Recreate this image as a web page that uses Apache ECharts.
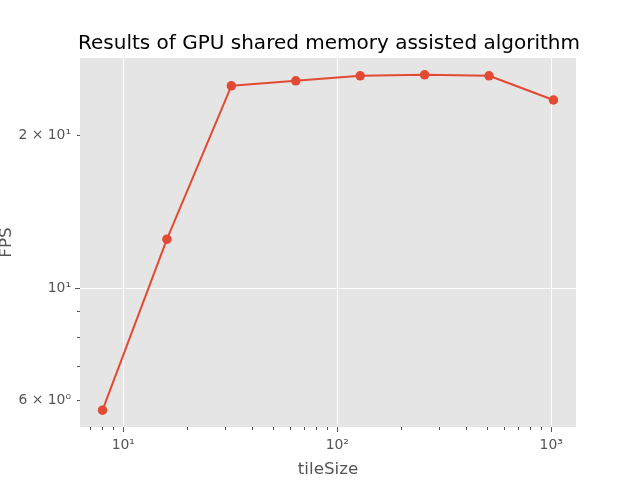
<!DOCTYPE html>
<html>
<head>
<meta charset="utf-8">
<script src="https://cdn.jsdelivr.net/npm/echarts@6/dist/echarts.min.js"></script>
<style>html,body{margin:0;padding:0;background:#fff}#c{width:640px;height:480px}</style>
</head>
<body>
<div id="c"></div>
<script>
const tileSizes = [8, 16, 32, 64, 128, 256, 512, 1024];
const fps = [5.74, 12.49, 25.09, 25.66, 26.26, 26.38, 26.26, 23.52];

const xMajorValues = [10, 100, 1000];
const xMajorLabels = ['10¹', '10²', '10³'];
const xMinorValues = [7, 8, 9, 20, 30, 40, 50, 60, 70, 80, 90, 200, 300, 400, 500, 600, 700, 800, 900];
const yMajorValues = [10];
const yLabelValues = [6, 10, 20];
const yLabelTexts = ['6 × 10⁰', '10¹', '2 × 10¹'];
const yMinorValues = [6, 7, 8, 9, 20];

const xMin = 6.277, xMax = 1305.3;
const yMin = 5.318, yMax = 28.47;

const FONT = 'DejaVu Sans';
const GREY = '#555555';

function lookup(vals, texts) {
  return function (v) {
    for (let i = 0; i < vals.length; i++) {
      if (Math.abs(v - vals[i]) / vals[i] < 1e-6) return texts[i];
    }
    return '';
  };
}

const chart = echarts.init(document.getElementById('c'), null, {renderer: 'canvas'});
chart.setOption({
  animation: false,
  backgroundColor: '#ffffff',
  title: {
    text: 'Results of GPU shared memory assisted algorithm',
    left: 324,
    top: 29,
    textAlign: 'center',
    textStyle: {fontFamily: FONT, fontSize: 20, fontWeight: 'normal', color: '#000000'}
  },
  grid: {
    left: 80, right: 64, top: 58, bottom: 53,
    containLabel: false, outerBoundsMode: 'none',
    show: true, backgroundColor: '#E5E5E5', borderWidth: 0
  },
  xAxis: [{
    type: 'log', logBase: 10, min: xMin, max: xMax,
    name: 'tileSize', nameLocation: 'middle', nameGap: 34, nameMoveOverlap: false,
    nameTextStyle: {fontFamily: FONT, fontSize: 16.7, color: GREY},
    axisLine: {show: false},
    axisTick: {show: true, length: 5, customValues: xMajorValues, lineStyle: {color: GREY, width: 1}},
    axisLabel: {customValues: xMajorValues, formatter: lookup(xMajorValues, xMajorLabels),
      fontFamily: FONT, fontSize: 13.9, color: GREY, margin: 11},
    splitLine: {show: true, lineStyle: {color: '#ffffff', width: 1}}
  }, {
    type: 'log', logBase: 10, min: xMin, max: xMax, position: 'bottom',
    axisLine: {show: false},
    axisTick: {show: true, length: 3, customValues: xMinorValues, lineStyle: {color: GREY, width: 1}},
    axisLabel: {show: false},
    splitLine: {show: false}
  }],
  yAxis: [{
    type: 'log', logBase: 10, min: yMin, max: yMax,
    name: 'FPS', nameLocation: 'middle', nameGap: 65, nameMoveOverlap: false,
    nameTextStyle: {fontFamily: FONT, fontSize: 16.7, color: GREY},
    axisLine: {show: false},
    axisTick: {show: true, length: 5, customValues: yMajorValues, lineStyle: {color: GREY, width: 1}},
    axisLabel: {customValues: yLabelValues, formatter: lookup(yLabelValues, yLabelTexts),
      fontFamily: FONT, fontSize: 13.9, color: GREY, margin: 9},
    splitLine: {show: true, lineStyle: {color: '#ffffff', width: 1}}
  }, {
    type: 'log', logBase: 10, min: yMin, max: yMax, position: 'left',
    axisLine: {show: false},
    axisTick: {show: true, length: 3, customValues: yMinorValues, lineStyle: {color: GREY, width: 1}},
    axisLabel: {show: false},
    splitLine: {show: false}
  }],
  series: [{
    type: 'line',
    xAxisIndex: 0, yAxisIndex: 0,
    data: tileSizes.map((t, i) => [t, fps[i]]),
    symbol: 'circle', symbolSize: 9.5, showSymbol: true,
    lineStyle: {color: '#E24A33', width: 2},
    itemStyle: {color: '#E24A33'}
  }]
});
</script>
</body>
</html>
